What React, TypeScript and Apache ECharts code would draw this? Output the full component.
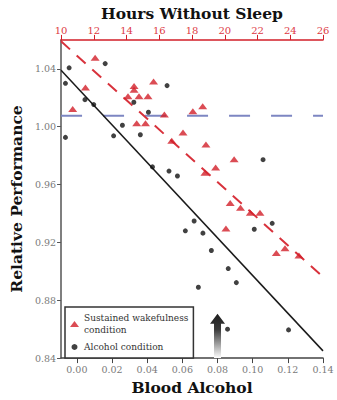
import { useEffect, useRef } from "react";
import * as echarts from "echarts";

// Blood alcohol concentration (%) vs relative performance
const alcoholPoints: [number, number][] = [
  [-0.0044, 1.0407], [-0.0065, 1.030], [0.0161, 1.0436], [0.0046, 1.0187],
  [0.0096, 1.0153], [0.0324, 1.0169], [0.0407, 1.010], [0.0259, 1.001],
  [-0.0065, 0.9926], [0.0209, 0.9937], [0.0361, 0.9944], [0.0513, 1.0284],
  [0.0430, 0.9722], [0.0524, 0.9693], [0.0572, 0.9659], [0.1059, 0.9772],
  [0.0667, 0.9348], [0.0617, 0.928], [0.0717, 0.9264], [0.0765, 0.9144],
  [0.0861, 0.9019], [0.0907, 0.8922], [0.0691, 0.889], [0.0857, 0.860],
  [0.1009, 0.9291], [0.1111, 0.9332], [0.1204, 0.8595],
];

// Hours without sleep vs relative performance
const wakePoints: [number, number][] = [
  [12.08, 1.0477], [11.49, 1.0271], [10.71, 1.0123], [14.46, 1.0282],
  [14.46, 1.0256], [14.09, 1.021], [14.76, 1.021], [15.31, 1.021],
  [15.65, 1.0312], [14.62, 1.0024], [15.16, 1.0024], [16.31, 1.0085],
  [18.05, 1.0107], [18.65, 1.0141], [17.45, 0.996], [16.76, 0.9903],
  [18.85, 0.9876], [20.57, 0.9774], [19.44, 0.9718], [18.79, 0.9681],
  [20.33, 0.9473], [20.96, 0.9439], [21.56, 0.9405], [22.15, 0.9405],
  [20.07, 0.9296], [23.15, 0.9126], [23.68, 0.916], [24.53, 0.911],
];

const alcoholFit: [number, number][] = [[-0.009, 1.039], [0.14, 0.845]];
const wakeFit: [number, number][] = [[10, 1.059], [26.7, 0.889]];
const baselineLevel = 1.0075;
const baselineSpan: [number, number][] = [[-0.009, baselineLevel], [0.14, baselineLevel]];

const alcoholTicks = [0, 0.02, 0.04, 0.06, 0.08, 0.1, 0.12, 0.14];
const perfTicks = [0.84, 0.88, 0.92, 0.96, 1.0, 1.04];
const arrowAt: [number, number] = [0.08, 0.8706];

const SERIF = "DejaVu Serif";
const RED = "#d21f29";

export default function App() {
  const ref = useRef<HTMLDivElement>(null);
  useEffect(() => {
    document.body.style.margin = "0";
    const chart = echarts.init(ref.current!, undefined, { renderer: "svg" });
    chart.setOption({
      animation: false,
      backgroundColor: "#fff",
      grid: { left: 54, right: 14, top: 38, bottom: 39 },
      xAxis: [
        {
          type: "value",
          position: "bottom",
          min: -0.009,
          max: 0.14,
          name: "Blood Alcohol",
          nameLocation: "middle",
          nameGap: 20,
          nameTextStyle: { fontFamily: SERIF, fontWeight: "bold", fontSize: 15.5, color: "#111" },
          axisLine: { show: true, onZero: false, lineStyle: { color: "#444", width: 1.5 } },
          axisTick: { show: true, length: 5, lineStyle: { color: "#444" }, customValues: alcoholTicks },
          axisLabel: {
            customValues: alcoholTicks,
            margin: 6,
            fontFamily: SERIF,
            fontSize: 9.5,
            color: "#7a7a7a",
            formatter: (v: number) => v.toFixed(2),
          },
          splitLine: { show: false },
        },
        {
          type: "value",
          position: "top",
          min: 10,
          max: 26,
          interval: 2,
          name: "Hours Without Sleep",
          nameLocation: "middle",
          nameGap: 15,
          nameTextStyle: { fontFamily: SERIF, fontWeight: "bold", fontSize: 15.5, color: "#111" },
          axisLine: { show: true, onZero: false, lineStyle: { color: RED, width: 1.5 } },
          axisTick: { show: true, length: 5, lineStyle: { color: RED } },
          axisLabel: { margin: 4, fontFamily: SERIF, fontSize: 10, color: "#dd3a44" },
          splitLine: { show: false },
        },
      ],
      yAxis: {
        type: "value",
        min: 0.84,
        max: 1.06,
        name: "Relative Performance",
        nameLocation: "middle",
        nameGap: 30,
        nameTextStyle: { fontFamily: SERIF, fontWeight: "bold", fontSize: 15.5, color: "#111" },
        axisLine: { show: true, onZero: false, lineStyle: { color: "#555", width: 1.5 } },
        axisTick: { show: true, length: 4, lineStyle: { color: "#555" }, customValues: perfTicks },
        axisLabel: {
          customValues: perfTicks,
          margin: 5,
          fontFamily: SERIF,
          fontSize: 9.5,
          color: "#7a7a7a",
          formatter: (v: number) => v.toFixed(2),
        },
        splitLine: { show: false },
      },
      legend: {
        orient: "vertical",
        left: 65,
        top: 307,
        padding: [5, 5, 5, 5],
        itemGap: 5,
        itemWidth: 9,
        itemHeight: 6,
        backgroundColor: "#fff",
        borderColor: "#333",
        borderWidth: 1.5,
        borderRadius: 0,
        textStyle: { fontFamily: SERIF, fontSize: 9, color: "#333", lineHeight: 12 },
        formatter: (n: string) => (n === "Sustained wakefulness condition" ? "Sustained wakefulness\ncondition" : n),
        data: [
          { name: "Sustained wakefulness condition", icon: "triangle" },
          { name: "Alcohol condition", icon: "circle" },
        ],
      },
      series: [
        {
          name: "baseline",
          type: "line",
          xAxisIndex: 0,
          data: baselineSpan,
          symbol: "none",
          lineStyle: { color: "#7d86c2", width: 2, type: [21, 21] },
          silent: true,
          z: 1,
        },
        {
          name: "alcohol fit",
          type: "line",
          xAxisIndex: 0,
          data: alcoholFit,
          symbol: "none",
          lineStyle: { color: "#1a1a1a", width: 1.5 },
          silent: true,
          z: 2,
        },
        {
          name: "wake fit",
          type: "line",
          xAxisIndex: 1,
          data: wakeFit,
          symbol: "none",
          clip: false,
          lineStyle: { color: "#d8323c", width: 2, type: [12, 9] },
          silent: true,
          z: 2,
        },
        {
          name: "Sustained wakefulness condition",
          type: "scatter",
          xAxisIndex: 1,
          data: wakePoints,
          symbol: "triangle",
          symbolSize: [9, 6],
          itemStyle: { color: RED },
          z: 3,
        },
        {
          name: "Alcohol condition",
          type: "scatter",
          xAxisIndex: 0,
          data: alcoholPoints,
          symbol: "circle",
          symbolSize: 5,
          itemStyle: { color: "#111" },
          z: 3,
        },
      ],
    });

    const tip = chart.convertToPixel({ xAxisIndex: 0, yAxisIndex: 0 }, arrowAt) as number[];
    const base = chart.convertToPixel({ xAxisIndex: 0, yAxisIndex: 0 }, [arrowAt[0], 0.84]) as number[];
    const cx = tip[0];
    const headH = 10;
    const headW = 7.5;
    const shaftW = 3.5;
    chart.setOption({
      graphic: [
        {
          type: "polygon",
          shape: {
            points: [
              [cx, tip[1]],
              [cx + headW, tip[1] + headH],
              [cx + shaftW, tip[1] + headH],
              [cx + shaftW, base[1]],
              [cx - shaftW, base[1]],
              [cx - shaftW, tip[1] + headH],
              [cx - headW, tip[1] + headH],
            ],
          },
          style: {
            fill: new echarts.graphic.LinearGradient(0, 0, 0, 1, [
              { offset: 0, color: "#1e1e1e" },
              { offset: 0.35, color: "#3a3a3a" },
              { offset: 1, color: "#ffffff" },
            ]),
          },
          z: 10,
        },
      ],
    });

    return () => chart.dispose();
  }, []);
  return <div ref={ref} style={{ width: 337, height: 400 }} />;
}
